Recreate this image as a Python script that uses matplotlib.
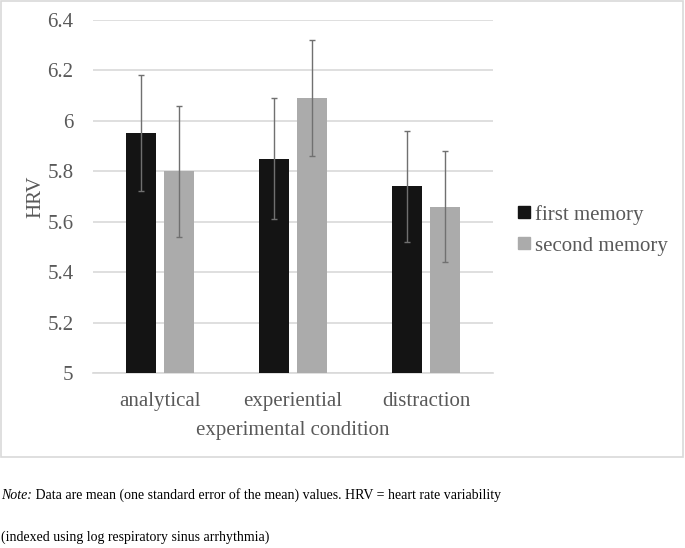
import numpy as np
import matplotlib.pyplot as plt
from matplotlib.lines import Line2D
from matplotlib.patches import Rectangle

plt.rcParams["font.family"] = ["Liberation Serif", "DejaVu Serif"]

conditions = ["analytical", "experiential", "distraction"]
series_names = ["first memory", "second memory"]
first_mean = [5.95, 5.85, 5.74]
first_se = [0.23, 0.24, 0.22]
second_mean = [5.80, 6.09, 5.66]
second_se = [0.26, 0.23, 0.22]
y_ticks = [5, 5.2, 5.4, 5.6, 5.8, 6, 6.2, 6.4]

TEXT_GRAY = "#595959"
GRID_GRAY = "#d9d9d9"
BAR_COLORS = ["#141414", "#ababab"]
ERR_COLOR = "#707070"

fig = plt.figure(figsize=(6.85, 5.48), dpi=100)
ax = fig.add_axes([0.1358, 0.3193, 0.584, 0.6442])

# light frame round the chart area, like the Excel chart border
fig.patches.append(Rectangle((0.0015, 0.166), 0.9955, 0.832, transform=fig.transFigure,
                             fill=False, edgecolor=GRID_GRAY, linewidth=1.2))

x = np.arange(len(conditions))
width = 0.225
offset = 0.1425
err_kw = dict(ecolor=ERR_COLOR, elinewidth=1, capsize=2.5, capthick=1)

ax.bar(x - offset, np.array(first_mean) - 5, width, bottom=5, color=BAR_COLORS[0],
       yerr=first_se, error_kw=err_kw, zorder=3)
ax.bar(x + offset, np.array(second_mean) - 5, width, bottom=5, color=BAR_COLORS[1],
       yerr=second_se, error_kw=err_kw, zorder=3)

ax.set_xlim(-0.5, 2.5)
ax.set_ylim(5, 6.4)
ax.set_yticks(y_ticks)
ax.set_yticklabels([f"{v:g}" for v in y_ticks])
ax.set_xticks(x)
ax.set_xticklabels(conditions)
ax.yaxis.grid(True, color=GRID_GRAY, linewidth=1.2, zorder=0)
ax.set_axisbelow(True)

for side in ["top", "right", "left"]:
    ax.spines[side].set_visible(False)
ax.spines["bottom"].set_color(GRID_GRAY)
ax.spines["bottom"].set_linewidth(1.2)

ax.tick_params(axis="y", length=0, pad=14, labelsize=15, labelcolor=TEXT_GRAY)
ax.tick_params(axis="x", length=0, pad=14, labelsize=15, labelcolor=TEXT_GRAY)

ax.set_xlabel("experimental condition", fontsize=15, color=TEXT_GRAY, labelpad=7)
ax.set_ylabel("HRV", fontsize=15, color=TEXT_GRAY, labelpad=1.5)

handles = [Line2D([], [], marker="s", linestyle="none", markersize=8,
                  color=c) for c in BAR_COLORS]
fig.legend(handles, series_names, loc="center left", bbox_to_anchor=(0.744, 0.580),
           frameon=False, fontsize=15, labelcolor=TEXT_GRAY, handlelength=0.6,
           handletextpad=0.2, labelspacing=0.55, borderaxespad=0)

note = fig.text(0.001, 0.0967, "Note:", style="italic", fontsize=10, va="center")
ax.annotate(" Data are mean (one standard error of the mean) values. HRV = heart rate variability",
            xy=(1, 0.5), xycoords=note, va="center", fontsize=10)
fig.text(0.001, 0.02, "(indexed using log respiratory sinus arrhythmia)", fontsize=10, va="center")

fig.savefig("out.png", dpi=100)
